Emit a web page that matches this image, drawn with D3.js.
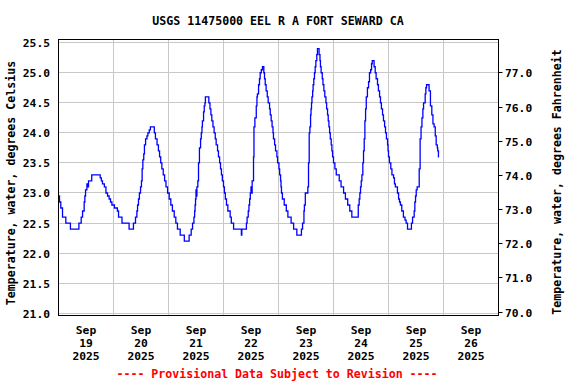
<!DOCTYPE html>
<html><head><meta charset="utf-8">
<script src="https://cdn.jsdelivr.net/npm/d3@7"></script>
<style>
body{margin:0;background:#fff}
svg{display:block}
text{font-family:"DejaVu Sans Mono",monospace;font-weight:bold}
</style>
</head><body><svg id="chart" width="576" height="384"></svg>
<script>
const titleText = "USGS 11475000 EEL R A FORT SEWARD CA";
const leftAxisTitle = "Temperature, water, degrees Celsius";
const rightAxisTitle = "Temperature, water, degrees Fahrenheit";
const footerText = "---- Provisional Data Subject to Revision ----";
const startDate = new Date(2025, 8, 19);
const endDate = new Date(2025, 8, 27);
const dayMonth = ["Sep","Sep","Sep","Sep","Sep","Sep","Sep","Sep"];
const dayNumber = ["19","20","21","22","23","24","25","26"];
const dayYear = ["2025","2025","2025","2025","2025","2025","2025","2025"];
const celsiusTicks = [21.0,21.5,22.0,22.5,23.0,23.5,24.0,24.5,25.0,25.5];
const fahrenheitTicks = [70.0,71.0,72.0,73.0,74.0,75.0,76.0,77.0];

// hours since Sep 19 00:00, water temperature (deg C) at each step change
const obsHours = [
 0,0.45,1.0,1.75,3.2,5.2,8.9,9.9,10.5,11.2,11.5,11.8,12.4,12.9,13.1,14.5,18.2,18.7,19.2,20.0,20.7,21.4,22.1,22.7,23.3,
 24.4,25.7,26.2,27.7,30.8,32.7,33.6,34.2,34.5,34.9,35.3,35.8,36.2,36.5,36.8,37.2,37.5,38.0,38.6,39.0,39.6,40.1,41.8,42.3,43.0,43.6,44.1,44.6,45.1,45.7,46.3,46.9,47.6,
 48.3,49.0,49.7,50.5,51.2,51.9,53.1,54.9,57.0,57.9,58.5,59.1,59.4,59.6,59.8,60.0,60.2,60.4,60.8,61.1,61.5,62.0,62.3,62.6,62.8,63.3,63.6,63.9,64.1,65.6,66.1,66.5,66.9,67.4,67.9,68.4,68.8,69.4,69.8,70.3,70.7,71.1,71.5,72.0,72.4,
 72.8,73.3,73.9,74.9,75.4,76.4,79.8,80.0,82.0,82.3,82.8,83.1,83.4,83.7,84.0,84.2,84.5,85.1,85.3,85.7,86.3,86.6,86.8,87.3,87.7,88.0,88.5,89.0,89.6,89.9,90.2,90.6,91.1,91.5,92.1,92.4,92.8,93.2,93.6,93.8,94.3,94.7,95.3,95.6,96.2,96.5,96.9,97.1,97.3,
 97.7,98.5,99.4,100.1,101.5,102.6,104.0,106.0,106.5,107.1,107.3,107.7,108.8,109.1,109.4,109.7,110.0,110.2,110.4,110.6,110.9,111.1,111.4,111.7,112.0,112.3,112.7,113.0,113.7,114.1,114.3,114.6,115.1,115.4,115.8,116.2,116.7,117.0,117.4,117.7,118.0,118.3,118.6,119.0,119.3,119.6,120.0,120.6,121.2,
 122.5,123.3,124.4,125.2,126.2,127.1,128.0,130.8,131.2,131.5,131.8,132.1,132.4,132.8,133.1,133.4,133.7,134.0,134.3,134.8,135.3,135.7,136.2,136.6,136.9,137.7,138.2,138.6,139.2,139.6,140.1,140.5,140.9,141.4,141.8,142.3,142.7,143.1,143.6,143.8,144.0,144.4,145.0,145.5,146.2,146.6,147.0,147.9,
 148.4,148.8,149.2,149.8,150.5,151.2,151.7,152.3,154.0,154.5,155.2,155.5,155.8,156.1,156.5,157.4,157.8,158.2,158.6,159.0,159.3,160.0,160.3,160.6,161.7,162.3,162.9,163.4,163.9,164.4,164.8,165.3,165.5,165.8,166.0
];
const obsTempC = [
 22.95,22.85,22.75,22.6,22.5,22.4,22.5,22.6,22.7,22.85,22.95,23.05,23.15,23.1,23.2,23.3,23.25,23.2,23.15,23.1,23.0,22.95,22.9,22.85,22.8,
 22.75,22.7,22.6,22.5,22.4,22.5,22.6,22.7,22.8,22.9,23.0,23.1,23.2,23.4,23.55,23.65,23.8,23.9,23.95,24.0,24.05,24.1,24.0,23.9,23.8,23.7,23.6,23.5,23.4,23.3,23.2,23.1,23.0,
 22.9,22.8,22.7,22.6,22.5,22.4,22.3,22.2,22.3,22.4,22.5,22.6,22.7,22.8,22.9,23.05,22.95,23.1,23.2,23.5,23.75,23.9,24.0,24.1,24.2,24.35,24.45,24.5,24.6,24.5,24.4,24.3,24.2,24.1,24.0,23.9,23.8,23.7,23.6,23.5,23.4,23.3,23.2,23.1,23.0,
 22.9,22.8,22.7,22.6,22.5,22.4,22.3,22.4,22.5,22.6,22.7,22.8,22.9,23.0,23.1,23.0,23.2,23.6,24.1,24.25,24.45,24.6,24.65,24.8,24.9,25.0,25.05,25.1,25.0,24.9,24.8,24.7,24.6,24.5,24.4,24.3,24.2,24.1,24.0,23.9,23.8,23.7,23.6,23.5,23.4,23.3,23.2,23.1,23.0,
 22.9,22.8,22.7,22.6,22.5,22.4,22.3,22.4,22.5,22.7,22.8,23.0,23.1,23.5,24.0,24.1,24.3,24.4,24.5,24.6,24.7,24.8,24.9,25.0,25.1,25.2,25.3,25.4,25.3,25.2,25.1,25.0,24.9,24.8,24.7,24.6,24.5,24.4,24.3,24.2,24.1,24.0,23.9,23.8,23.7,23.6,23.5,23.4,23.3,
 23.2,23.1,23.0,22.9,22.8,22.7,22.6,22.8,22.9,23.0,23.1,23.2,23.3,23.5,23.7,23.9,24.2,24.4,24.6,24.75,24.85,25.0,25.05,25.15,25.2,25.1,25.0,24.9,24.8,24.7,24.6,24.5,24.4,24.3,24.2,24.1,24.0,23.9,23.8,23.7,23.6,23.5,23.4,23.3,23.25,23.15,23.1,23.0,
 22.9,22.85,22.8,22.7,22.6,22.55,22.5,22.4,22.5,22.6,22.7,22.85,22.95,23.05,23.1,23.4,23.9,24.1,24.25,24.4,24.5,24.65,24.75,24.8,24.7,24.45,24.3,24.15,24.1,23.95,23.8,23.75,23.7,23.6,23.6
];

const L = 58.5, R = 498.5, T = 39.5, B = 315.5;
const svg = d3.select("#chart");
const hourMs = 3600 * 1000;
const data = obsHours.map((h, i) => ({ t: new Date(startDate.getTime() + h * hourMs), v: obsTempC[i] }));

const x = d3.scaleTime().domain([startDate, endDate]).range([L, R]);
const yC = d3.scaleLinear().domain([20.962, 25.553]).range([B, T]);
const yF = d3.scaleLinear().domain([69.898, 77.977]).range([B, T]);
const grid = "#c8c8c8";
const crisp = v => Math.round(v - 0.5) + 0.5;

// horizontal gridlines
svg.append("g").selectAll("line").data(celsiusTicks).join("line")
  .attr("x1", L).attr("x2", R)
  .attr("y1", d => crisp(yC(d))).attr("y2", d => crisp(yC(d)))
  .attr("stroke", grid).attr("stroke-width", 1);

// vertical gridlines at midnight
const midnights = d3.timeDay.range(d3.timeDay.offset(startDate, 1), endDate);
svg.append("g").selectAll("line").data(midnights).join("line")
  .attr("x1", d => crisp(x(d))).attr("x2", d => crisp(x(d)))
  .attr("y1", T).attr("y2", B)
  .attr("stroke", grid).attr("stroke-width", 1);

// data line
const line = d3.line().x(d => x(d.t)).y(d => yC(d.v)).curve(d3.curveStepAfter);
svg.append("path").datum(data).attr("d", line)
  .attr("fill", "none").attr("stroke", "#0000ff").attr("stroke-width", 1.3);

// frame
svg.append("rect").attr("x", L).attr("y", T).attr("width", R - L).attr("height", B - T)
  .attr("fill", "none").attr("stroke", "#000").attr("stroke-width", 1);

// left tick labels
svg.append("g").selectAll("text").data(celsiusTicks).join("text")
  .attr("x", 50).attr("y", d => yC(d) + 4.5)
  .attr("text-anchor", "end").attr("font-size", "11.3px")
  .text(d => d.toFixed(1));

// right ticks and labels
svg.append("g").selectAll("line").data(fahrenheitTicks).join("line")
  .attr("x1", R).attr("x2", R + 4)
  .attr("y1", d => crisp(yF(d))).attr("y2", d => crisp(yF(d)))
  .attr("stroke", "#000");
svg.append("g").selectAll("text").data(fahrenheitTicks).join("text")
  .attr("x", 505).attr("y", d => yF(d) + 4.5)
  .attr("text-anchor", "start").attr("font-size", "11.3px")
  .text(d => d.toFixed(1));

// x labels at noon
const noons = dayNumber.map((d, i) => new Date(startDate.getTime() + (i * 24 + 12) * hourMs));
const xl = svg.append("g").selectAll("text").data(noons).join("text")
  .attr("text-anchor", "middle").attr("font-size", "11.3px")
  .attr("x", d => x(d));
xl.append("tspan").attr("x", d => x(d)).attr("y", 334).text((d, i) => dayMonth[i]);
xl.append("tspan").attr("x", d => x(d)).attr("y", 347).text((d, i) => dayNumber[i]);
xl.append("tspan").attr("x", d => x(d)).attr("y", 360).text((d, i) => dayYear[i]);

// title
svg.append("text").attr("x", 278).attr("y", 25).attr("text-anchor", "middle")
  .attr("font-size", "11.6px").text(titleText);

// axis titles
svg.append("text").attr("transform", "translate(15,183) rotate(-90)")
  .attr("text-anchor", "middle").attr("font-size", "11.6px").text(leftAxisTitle);
svg.append("text").attr("transform", "translate(560.5,182) rotate(-90)")
  .attr("text-anchor", "middle").attr("font-size", "11.6px").text(rightAxisTitle);

// footer
svg.append("text").attr("x", 277).attr("y", 378).attr("text-anchor", "middle")
  .attr("font-size", "11.6px").attr("fill", "#ff0000").text(footerText);
</script>
</body></html>
